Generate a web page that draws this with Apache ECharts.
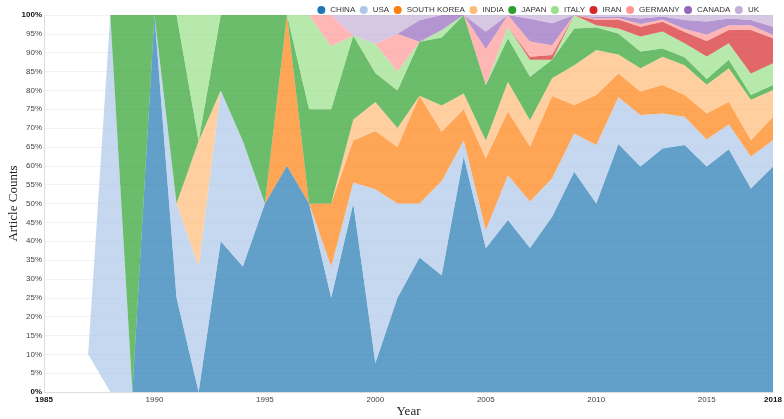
<!DOCTYPE html>
<html><head><meta charset="utf-8">
<script src="https://cdn.jsdelivr.net/npm/echarts@6/dist/echarts.min.js"></script>
<style>html,body{margin:0;padding:0;background:#fff}#c{width:784px;height:419px}</style>
</head><body><div id="c"></div>
<script>
const years = ['1985','1986','1987','1988','1989','1990','1991','1992','1993','1994','1995','1996','1997','1998','1999','2000','2001','2002','2003','2004','2005','2006','2007','2008','2009','2010','2011','2012','2013','2014','2015','2016','2017','2018'];
const countries = ['CHINA','USA','SOUTH KOREA','INDIA','JAPAN','ITALY','IRAN','GERMANY','CANADA','UK'];
const colors = ['#1f77b4','#aec7e8','#ff7f0e','#ffbb78','#2ca02c','#98df8a','#d62728','#ff9896','#9467bd','#c5b0d5'];
// share of article counts per year (%), 1985..2018
const baseline = ['-','-',10,0,0,0,0,0,0,0,0,0,0,0,0,0,0,0,0,0,0,0,0,0,0,0,0,0,0,0,0,0,0,0];
const china   = ['-','-',0,0,0,100,25,0,40,33.3,50,60,50,25,50,7.7,25,35.7,31,62.5,38.1,45.6,38.2,46.5,58.4,50,65.8,59.8,64.6,65.5,59.8,64.4,54,59.8];
const usa     = ['-','-',0,100,0,0,25,33.3,40,33.3,0,0,0,8.3,5.6,46.1,25,14.3,25,4.2,4.9,11.9,12.3,10.2,10.2,15.5,12.4,13.7,9.3,7.5,7.2,6.6,8.5,7];
const korea   = ['-','-',0,0,0,0,0,0,0,0,0,40,0,16.7,11.1,15.4,15,28.6,13,8.3,19,16.9,14.6,21.8,7.5,13.3,6.3,6.2,7.5,5.8,6.9,6,4.3,6.2];
const india   = ['-','-',0,0,0,0,0,33.3,0,0,0,0,0,0,5.6,7.7,5,0,7,4.2,4.7,7.9,7,4.7,10.6,11.9,5,6.2,7.5,7.9,7.6,8.9,10.7,7.1];
const japan   = ['-','-',0,0,100,0,50,0,20,33.4,50,0,25,25,22.2,7.7,10,14.3,18,20.8,14.7,11.5,11.5,4.9,9.7,6,5.6,4.4,2.2,2.1,1.5,2.2,1.3,1.3];
const italy   = ['-','-',0,0,0,0,0,33.4,0,0,0,0,25,16.7,0,7.7,5,0,2,0,0,3.1,4.5,0,3.6,0.6,1.3,4,4.5,3.7,6,4.4,5.7,5.8];
const iran    = ['-','-',0,0,0,0,0,0,0,0,0,0,0,0,0,0,0,0,0,0,0,0,0.8,1.3,0,1.4,2.4,2.6,2.6,3,4.1,3.5,11.5,6.6];
const germany = ['-','-',0,0,0,0,0,0,0,0,0,0,0,8.3,0,0,10,0,0,0,9.6,3.1,4.1,2.6,0,0.4,0.4,0.7,0.6,0.8,1.7,1.3,1.3,0.9];
const canada  = ['-','-',0,0,0,0,0,0,0,0,0,0,0,0,0,0,0,5.7,4,0,4.6,0,6,5.8,0,0.4,0.4,1.5,0.8,2.4,3.5,1.8,1.4,2.2];
const uk      = ['-','-',0,0,0,0,0,0,0,0,0,0,0,0,5.5,7.7,5,1.4,0,0,4.4,0,1,2.2,0,0.5,0.4,0.9,0.4,1.3,1.7,0.9,1.3,3.1];
const seriesValues = [china, usa, korea, india, japan, italy, iran, germany, canada, uk];

const chart = echarts.init(document.getElementById('c'), null, {renderer:'canvas'});
const series = [{
  name: 'base', type: 'line', stack: 'total', data: baseline, symbol: 'none', silent: true,
  lineStyle: {width: 0, opacity: 0}, itemStyle: {opacity: 0}
}];
countries.forEach((name, i) => {
  series.push({
    name, type: 'line', stack: 'total', data: seriesValues[i], symbol: 'none',
    color: colors[i],
    lineStyle: {width: 0, opacity: 0},
    areaStyle: {color: colors[i], opacity: 0.7},
    emphasis: {disabled: true}
  });
});
chart.setOption({
  animation: false,
  color: colors,
  legend: {
    data: countries, icon: 'circle', itemWidth: 8, itemHeight: 8, itemGap: 4.5,
    right: 20, top: 1,
    textStyle: {fontSize: 8, fontFamily: 'Liberation Sans', color: '#333'}
  },
  grid: {left: 44, right: 11, top: 15, bottom: 27, containLabel: false, outerBoundsMode: 'none'},
  xAxis: {
    type: 'category', data: years, boundaryGap: false,
    name: 'Year', nameLocation: 'middle', nameGap: 13, nameMoveOverlap: false,
    nameTextStyle: {fontFamily: 'Liberation Serif', fontSize: 13, color: '#222'},
    axisTick: {show: false},
    axisLine: {lineStyle: {color: '#ddd'}},
    splitLine: {show: false},
    axisLabel: {
      interval: (i, v) => (+v) % 5 === 0 || v === '2018',
      margin: 4, fontSize: 8, fontFamily: 'Liberation Sans', color: '#444',
      formatter: v => (v === '1985' || v === '2018') ? '{b|' + v + '}' : v,
      rich: {b: {fontWeight: 'bold', color: '#111', fontSize: 8, fontFamily: 'Liberation Sans'}}
    }
  },
  yAxis: {
    type: 'value', min: 0, max: 100, interval: 5,
    name: 'Article Counts', nameLocation: 'middle', nameGap: 24, nameRotate: 90, nameMoveOverlap: false,
    nameTextStyle: {fontFamily: 'Liberation Serif', fontSize: 13, color: '#222'},
    axisLine: {show: true, lineStyle: {color: '#ddd'}},
    axisTick: {show: false},
    splitLine: {lineStyle: {color: '#f2f2f2'}},
    axisLabel: {
      margin: 2, fontSize: 8, fontFamily: 'Liberation Sans', color: '#444',
      formatter: v => (v === 0 || v === 100) ? '{b|' + v + '%}' : v + '%',
      rich: {b: {fontWeight: 'bold', color: '#111', fontSize: 8, fontFamily: 'Liberation Sans'}}
    }
  },
  series
});
</script></body></html>
